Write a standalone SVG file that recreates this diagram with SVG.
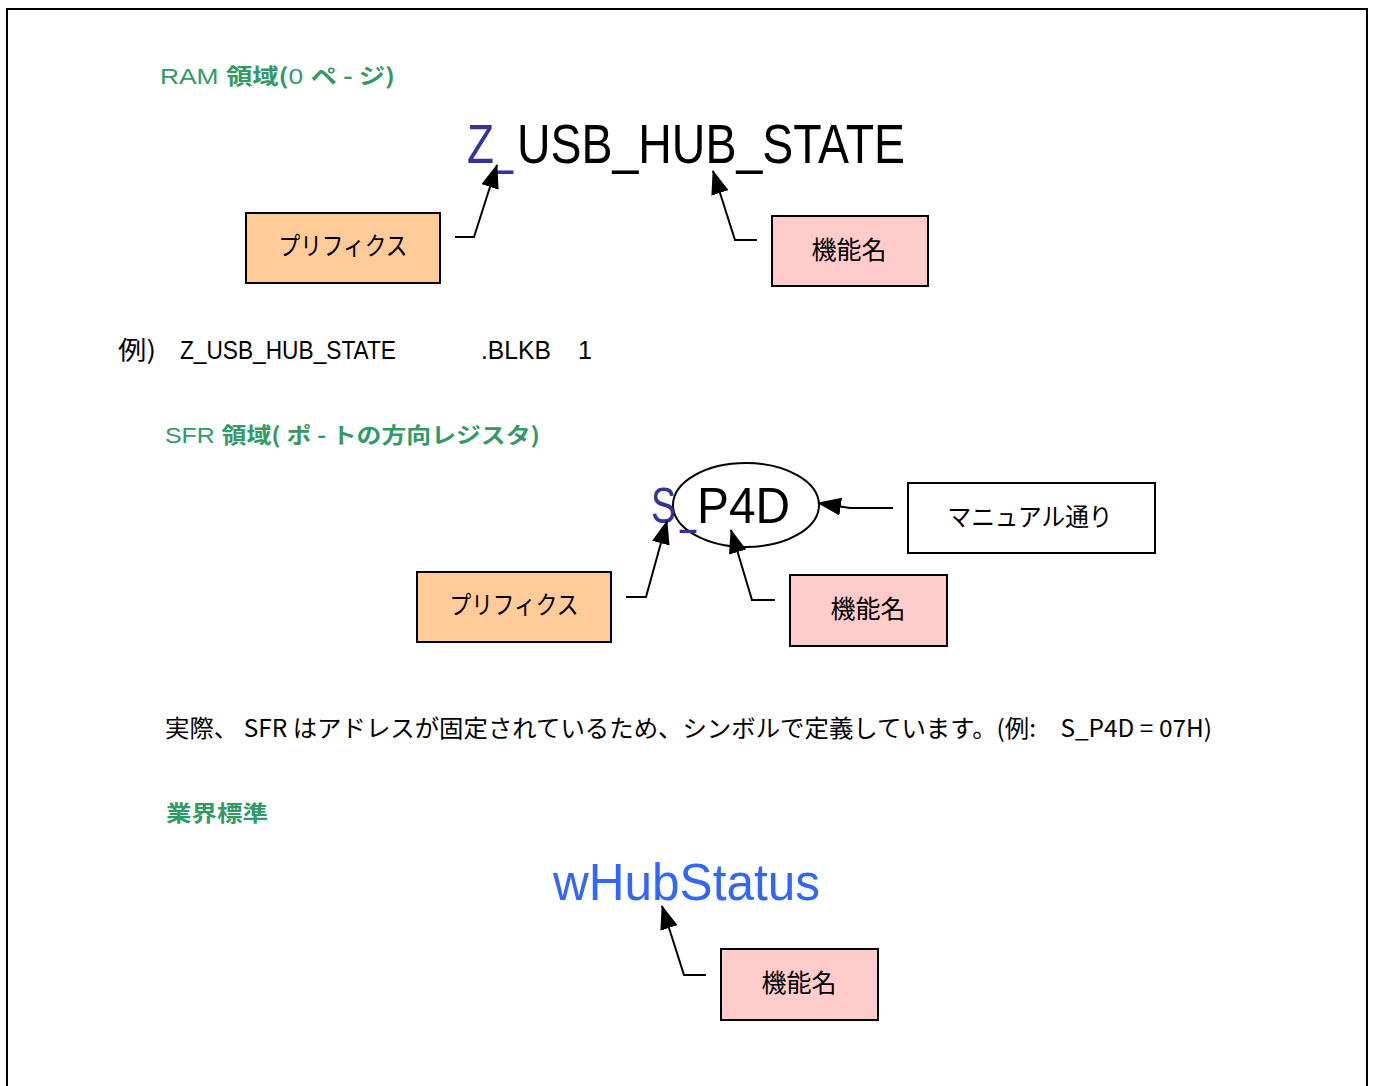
<svg xmlns="http://www.w3.org/2000/svg" width="1374" height="1086" viewBox="0 0 1374 1086">
<defs>
<marker id="ah" viewBox="0 0 24 18" refX="23" refY="9" markerWidth="24" markerHeight="18" markerUnits="userSpaceOnUse" orient="auto">
<path d="M0,0 L24,9 L0,18 z" fill="#000"/>
</marker>
<style>
text{font-family:"Liberation Sans","Noto Sans CJK JP",sans-serif;}
.jp{font-family:"Noto Sans CJK JP","Liberation Sans",sans-serif;}
.head{fill:#339966;font-size:22px;}
.hb{font-weight:bold;font-family:"Noto Sans CJK JP",sans-serif;}
.pre rect{fill:#ffcc99;stroke:#000;stroke-width:2;}
.fn rect{fill:#ffcccc;stroke:#000;stroke-width:2;}
.man rect{fill:#fff;stroke:#000;stroke-width:2;}
.lbl{font-size:25px;text-anchor:middle;fill:#000;}
.conn polyline{fill:none;stroke:#000;stroke-width:2;marker-end:url(#ah);}
.blue{fill:#333399;}
</style>
</defs>
<rect x="0" y="0" width="1374" height="1086" fill="#fff"/>
<rect x="7" y="9" width="1360" height="1100" fill="none" stroke="#000" stroke-width="2"/>

<g id="heading-ram">
<text class="head" x="160" y="84" textLength="235" lengthAdjust="spacingAndGlyphs">RAM <tspan class="hb">領域(</tspan>0 <tspan class="hb">ペ - ジ)</tspan></text>
</g>

<g id="symbol-ram">
<text class="blue" x="467" y="163" font-size="56" textLength="27" lengthAdjust="spacingAndGlyphs">Z</text>
<text class="blue" x="497" y="163" font-size="56" textLength="16" lengthAdjust="spacingAndGlyphs">_</text>
<text x="517" y="163" font-size="56" textLength="388" lengthAdjust="spacingAndGlyphs">USB_HUB_STATE</text>
</g>

<g id="prefix1" class="pre">
<rect x="246" y="213" width="194" height="70"/>
<text class="lbl jp" x="343" y="255" textLength="129" lengthAdjust="spacingAndGlyphs">プリフィクス</text>
</g>

<g id="func1" class="fn">
<rect x="772" y="216" width="156" height="70"/>
<text class="lbl jp" x="849" y="259">機能名</text>
</g>

<g id="example">
<text x="118" y="359" font-size="25" class="jp" textLength="38" lengthAdjust="spacingAndGlyphs">例)</text>
<text x="180" y="359" font-size="25" textLength="216" lengthAdjust="spacingAndGlyphs">Z_USB_HUB_STATE</text>
<text x="481" y="359" font-size="25" textLength="70" lengthAdjust="spacingAndGlyphs">.BLKB</text>
<text x="578" y="359" font-size="25">1</text>
</g>

<g id="heading-sfr">
<text class="head" x="165" y="443" textLength="375" lengthAdjust="spacingAndGlyphs">SFR <tspan class="hb">領域( ポ - トの方向レジスタ)</tspan></text>
</g>

<g id="symbol-sfr">
<ellipse cx="746" cy="505" rx="73" ry="42" fill="none" stroke="#000" stroke-width="2"/>
<text class="blue" x="651" y="523" font-size="50" textLength="25" lengthAdjust="spacingAndGlyphs">S</text>
<text class="blue" x="680" y="523" font-size="50" textLength="16" lengthAdjust="spacingAndGlyphs">_</text>
<text x="697" y="523" font-size="50" textLength="93" lengthAdjust="spacingAndGlyphs">P4D</text>
</g>

<g id="manual" class="man">
<rect x="908" y="483" width="247" height="70"/>
<text class="lbl jp" x="1030" y="526" textLength="165" lengthAdjust="spacingAndGlyphs">マニュアル通り</text>
</g>

<g id="prefix2" class="pre">
<rect x="417" y="572" width="194" height="70"/>
<text class="lbl jp" x="514" y="614" textLength="129" lengthAdjust="spacingAndGlyphs">プリフィクス</text>
</g>

<g id="func2" class="fn">
<rect x="790" y="575" width="157" height="71"/>
<text class="lbl jp" x="868" y="618">機能名</text>
</g>

<g id="note">
<text x="165" y="737" font-size="24" class="jp" textLength="1047" lengthAdjust="spacingAndGlyphs">実際、 SFR はアドレスが固定されているため、シンボルで定義しています。(例:　S_P4D = 07H)</text>
</g>

<g id="heading-std">
<text class="head hb" x="166" y="821" font-size="24" textLength="102" lengthAdjust="spacingAndGlyphs">業界標準</text>
</g>

<g id="symbol-std">
<text x="553" y="900" font-size="52" fill="#3366ff" textLength="267" lengthAdjust="spacingAndGlyphs">wHubStatus</text>
</g>

<g id="func3" class="fn">
<rect x="721" y="949" width="157" height="71"/>
<text class="lbl jp" x="799" y="992">機能名</text>
</g>

<g id="connectors" class="conn">
<polyline points="455,237 474,237 497,165"/>
<polyline points="757,240 735,240 713,171"/>
<polyline points="893,508 850,508 818,503"/>
<polyline points="626,597 646,597 667,521"/>
<polyline points="775,600 752,600 731,530"/>
<polyline points="706,975 684,975 662,906"/>
</g>
</svg>
